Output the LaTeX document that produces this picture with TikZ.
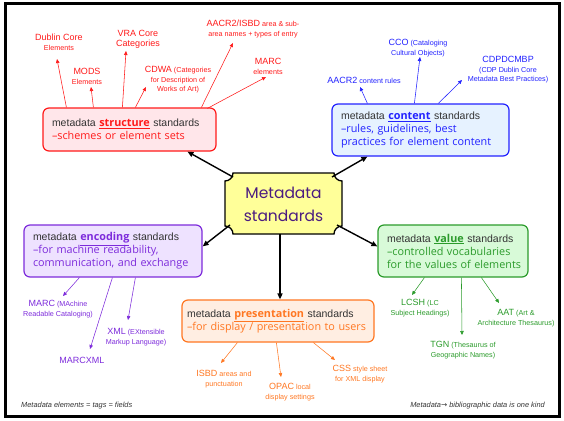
\documentclass[tikz,border=0pt]{standalone}
\usepackage{fontspec}
\setmainfont{Liberation Sans}
\newfontfamily\comic[Scale=1.03]{Open Sans}
\newfontfamily\plaquefont{Poppins}
\newfontfamily\symfont{DejaVu Sans}
\usetikzlibrary{arrows.meta}
\definecolor{cred}{HTML}{FF1A1A}
\definecolor{credfill}{HTML}{FFE6EA}
\definecolor{cblue}{HTML}{2222FF}
\definecolor{cbluefill}{HTML}{E6F2FF}
\definecolor{cpurp}{HTML}{7D2BDB}
\definecolor{cpurpfill}{HTML}{EEE2FF}
\definecolor{cgreen}{HTML}{2B9B2B}
\definecolor{cgreenfill}{HTML}{D8FAD8}
\definecolor{corange}{HTML}{FF7722}
\definecolor{corangefill}{HTML}{FFEEE2}
\definecolor{plaquefill}{HTML}{FFFF99}
\definecolor{plaquetext}{HTML}{4B1C80}
\definecolor{darktext}{HTML}{333333}
\newcommand{\bg}[1]{{\fontsize{9}{11}\selectfont #1}}
\newcommand{\kw}[1]{\underline{{\comic\bfseries #1}}}
\tikzset{
  stdbox/.style={draw, line width=1.2pt, rounded corners=6pt, align=left,
    inner xsep=9pt, inner ysep=0pt,
    font=\fontsize{10.5}{13}\selectfont},
  lbl/.style={align=center, inner sep=0pt, font=\fontsize{7.2}{10}\selectfont},
  thinarr/.style={line width=0.55pt, -{Triangle[length=4pt,width=3.5pt]}},
  bigarr/.style={line width=1.4pt, -{Triangle[length=6pt,width=5pt]}},
}
\begin{document}
\begin{tikzpicture}[x=1pt,y=-1pt]
\useasboundingbox (0,0) rectangle (564,420);
\draw[line width=3pt] (5,4) rectangle (559,416);

% central plaque
\def\r{8}
\filldraw[fill=plaquefill, line width=1.3pt]
  (225+\r,173) -- (342-\r,173) arc[start angle=180,end angle=90,radius=\r]
  -- (342,234-\r) arc[start angle=270,end angle=180,radius=\r]
  -- (225+\r,234) arc[start angle=0,end angle=-90,radius=\r]
  -- (225,173+\r) arc[start angle=90,end angle=0,radius=\r] -- cycle;
\node[align=center, text=plaquetext, font=\plaquefont\fontsize{15.5}{23}\selectfont] (center) at (283.5,204) {Metadata\\standards};

% boxes
\node[stdbox, fill=credfill, draw=cred, text=cred, minimum width=173pt, minimum height=43pt, text width=155pt] (struct) at (129.5,129.5)
  {\textcolor{darktext}{metadata} \kw{structure} \textcolor{darktext}{standards}\\{\comic –schemes or element sets}};
\node[stdbox, fill=cbluefill, draw=cblue, text=cblue, minimum width=177pt, minimum height=52pt, text width=159pt] (content) at (420.5,130)
  {\textcolor{darktext}{metadata} \kw{content} \textcolor{darktext}{standards}\\{\comic –rules, guidelines, best}\\{\comic practices for element content}};
\node[stdbox, fill=cpurpfill, draw=cpurp, text=cpurp, minimum width=178pt, minimum height=52pt, text width=160pt] (encoding) at (113,251)
  {\textcolor{darktext}{metadata} \kw{encoding} \textcolor{darktext}{standards}\\{\comic –for machine readability,}\\{\comic communication, and exchange}};
\node[stdbox, fill=cgreenfill, draw=cgreen, text=cgreen, minimum width=150pt, minimum height=52pt, text width=132pt] (value) at (453,251)
  {\textcolor{darktext}{metadata} \kw{value} \textcolor{darktext}{standards}\\{\comic –controlled vocabularies}\\\mbox{\comic for the values of elements}};
\node[stdbox, fill=corangefill, draw=corange, text=corange, inner xsep=5pt, minimum width=192pt, minimum height=42pt, text width=182pt] (present) at (278,321)
  {\textcolor{darktext}{metadata} \kw{presentation} \textcolor{darktext}{standards}\\{\comic –for display / presentation to users}};

% big arrows
\coordinate (cA) at (233,177);
\coordinate (cB) at (332,177);
\coordinate (cC) at (230,225);
\coordinate (cD) at (337,225);
\coordinate (cE) at (280,234);
\draw[bigarr] (cA) -- ([xshift=145pt]struct.south west);
\draw[bigarr] (cB) -- ([xshift=36pt]content.south west);
\draw[bigarr] (cC) -- ([yshift=-22pt]encoding.north east);
\draw[bigarr] (cD) -- ([yshift=-22pt]value.north west);
\draw[bigarr] (cE) -- (present.north -| cE);

% structure labels
\begin{scope}[cred]
\node[lbl] (dc) at (59,42) {\bg{Dublin Core}\\Elements};
\node[lbl] (mods) at (87,76) {\bg{MODS}\\Elements};
\node[lbl] (vra) at (138,39) {\bg{VRA Core}\\\bg{Categories}};
\node[lbl, font=\fontsize{7.2}{9.5}\selectfont] (cdwa) at (178,80) {\bg{CDWA} (Categories\\for Description of\\Works of Art)};
\node[lbl] (aacr) at (253,29) {\bg{AACR2/ISBD} area \& sub-\\area names + types of entry};
\node[lbl] (marc) at (268,66) {\bg{MARC}\\elements};
\coordinate (t1) at (57,59);
\coordinate (t2) at (91,87);
\coordinate (t3) at (126,51);
\coordinate (t4) at (146,87);
\coordinate (t5) at (233,43);
\coordinate (t6) at (266,77);
\draw[thinarr] ([xshift=24pt]struct.north west) -- (t1);
\draw[thinarr] ([xshift=51pt]struct.north west) -- (t2);
\draw[thinarr] ([xshift=80pt]struct.north west) -- (t3);
\draw[thinarr] ([xshift=93pt]struct.north west) -- (t4);
\draw[thinarr] ([xshift=159pt]struct.north west) -- (t5);
\draw[thinarr] ([xshift=165pt,yshift=-1pt]struct.north west) -- (t6);
\end{scope}

% content labels
\begin{scope}[cblue]
\node[lbl] (aacr2) at (364,80) {\bg{AACR2} content rules};
\node[lbl] (cco) at (418,48) {\bg{CCO} (Cataloging\\Cultural Objects)};
\node[lbl, font=\fontsize{7.2}{9.5}\selectfont] (cdp) at (508,70) {\bg{CDPDCMBP}\\(CDP Dublin Core\\Metadata Best Practices)};
\coordinate (u1) at (360,87);
\coordinate (u2) at (420,57);
\coordinate (u3) at (462,80);
\draw[thinarr] ([xshift=36pt]content.north west) -- (u1);
\draw[thinarr] ([xshift=83pt]content.north west) -- (u2);
\draw[thinarr] ([xshift=107pt]content.north west) -- (u3);
\end{scope}

% encoding labels
\begin{scope}[cpurp]
\node[lbl] (marcm) at (58,309) {\bg{MARC} (MAchine\\Readable Cataloging)};
\node[lbl] (xml) at (136,337) {\bg{XML} (EXtensible\\Markup Language)};
\node[lbl] (marcxml) at (82,360) {\bg{MARCXML}};
\coordinate (v1) at (63,296);
\coordinate (v2) at (128,320);
\coordinate (v3) at (90,349);
\draw[thinarr] ([xshift=56pt]encoding.south west) -- (v1);
\draw[thinarr] ([xshift=112pt]encoding.south west) -- (v2);
\draw[thinarr] ([xshift=89pt]encoding.south west) -- (v3);
\end{scope}

% value labels
\begin{scope}[cgreen]
\node[lbl] (lcsh) at (420,308) {\bg{LCSH} (LC\\Subject Headings)};
\node[lbl] (aat) at (516,318) {\bg{AAT} (Art \&\\Architecture Thesaurus)};
\node[lbl] (tgn) at (463,350) {\bg{TGN} (Thesaurus of\\Geographic Names)};
\coordinate (w1) at (412,295);
\coordinate (w2) at (499,303);
\coordinate (w3) at (462,335);
\draw[thinarr] ([xshift=47pt]value.south west) -- (w1);
\draw[thinarr] ([xshift=104pt]value.south west) -- (w2);
\draw[thinarr] ([xshift=84pt]value.south west) -- (w3);
\end{scope}

% presentation labels
\begin{scope}[corange]
\node[lbl] (isbd) at (224,379) {\bg{ISBD} areas and\\punctuation};
\node[lbl] (opac) at (290,392) {\bg{OPAC} local\\display settings};
\node[lbl] (css) at (360,374) {\bg{CSS} style sheet\\for XML display};
\coordinate (p1) at (221,363);
\coordinate (p2) at (281,377);
\coordinate (p3) at (335,360);
\draw[thinarr] ([xshift=56pt]present.south west) -- (p1);
\draw[thinarr] ([xshift=95pt]present.south west) -- (p2);
\draw[thinarr] ([xshift=132pt]present.south west) -- (p3);
\end{scope}

% footnotes
\node[anchor=west, inner sep=0pt, text=darktext, font=\itshape\fontsize{7.4}{9}\selectfont] (fn1) at (21,406) {Metadata elements = tags = fields};
\node[anchor=east, inner sep=0pt, text=darktext, font=\itshape\fontsize{7.4}{9}\selectfont] (fn2) at (545,406) {Metadata{\symfont\upshape →} bibliographic data is one kind};
\end{tikzpicture}
\end{document}
